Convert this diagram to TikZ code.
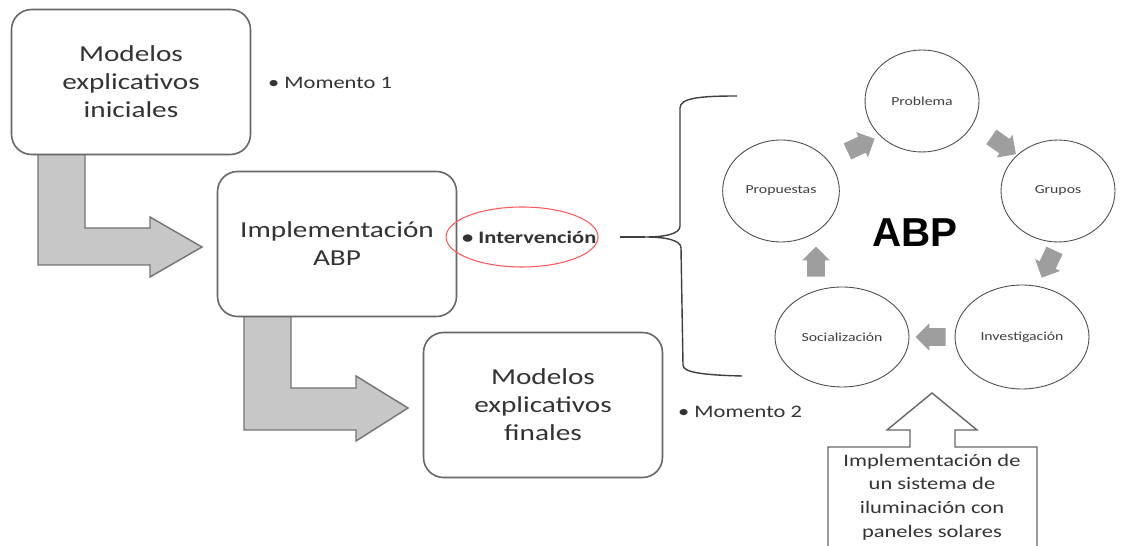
\documentclass[tikz,border=0pt]{standalone}
\usepackage{fontspec}
\setmainfont{Carlito}[FakeStretch=1.28]
\newfontfamily\abpfont{Liberation Sans}
\usetikzlibrary{shapes.geometric,shapes.arrows}

\begin{document}
\begin{tikzpicture}[x=0.02cm,y=-0.02cm,
  caja/.style={draw=black!60, line width=0.9pt, rounded corners=0.4cm, fill=white, minimum width=4.78cm, minimum height=2.9cm, align=center, font=\fontsize{13}{16}\selectfont, text=black!80},
  fase/.style={ellipse, draw=black!70, line width=0.5pt, minimum width=2.28cm, minimum height=2.04cm, font=\fontsize{7}{8}\selectfont, text=black!75},
  flechita/.style={single arrow, fill=black!38, minimum height=0.6cm, single arrow head extend=0.1cm, inner sep=0.17cm},
  flecha/.style={draw=black!55, line width=0.8pt, fill=black!22},
  nota/.style={anchor=west, font=\fontsize{10}{12}\selectfont, text=black!80}]
\path [use as bounding box, fill=white] (0,0) rectangle (1129,546);
\draw [flecha] (38,150) -- (38,265) -- (150,265) -- (150,277) -- (202,247) -- (150,217) -- (150,228) -- (85,228) -- (85,150) -- cycle;
\draw [flecha] (244,312) -- (244,430) -- (356,430) -- (356,441) -- (408,408) -- (356,376) -- (356,388) -- (291,388) -- (291,312) -- cycle;
\node [caja] (inicial) at (131,82) {Modelos\\explicativos\\iniciales};
\node [caja] (implem) at (337,244) {Implementación\\ABP};
\node [caja] (final) at (543,405) {Modelos\\explicativos\\finales};
\node [nota] (mom1) at (262,83) {\textbullet\ Momento 1};
\node [nota] (mom2) at (672,412) {\textbullet\ Momento 2};
\node [nota, font=\fontsize{10}{12}\selectfont\bfseries] (interv) at (456,237) {\textbullet\ Intervención};
\draw [red!65, line width=0.6pt] (522,237) ellipse [x radius=76, y radius=30];
\coordinate (inicioLinea) at (620,237);
\coordinate (punta) at (645,237);
\draw [line width=0.8pt, black!75] (inicioLinea) -- (punta);
\draw [line width=0.8pt, black!75] (737,96) .. controls (700,96) and (680,98) .. (680,108) -- (680,226) .. controls (680,234) and (665,237) .. (punta) .. controls (665,237) and (681,240) .. (681,248) -- (683,365) .. controls (683,372) and (700,375) .. (742,376);
\node [fase] (problema) at (922,101) {Problema};
\node [fase] (propuestas) at (781,191) {Propuestas};
\node [fase] (grupos) at (1058,191) {Grupos};
\node [fase, minimum width=2.68cm, minimum height=2cm] (social) at (842,337) {Socialización};
\node [fase, minimum width=2.64cm, minimum height=2.08cm] (investiga) at (1022,337) {Investigación};
\node [font=\abpfont\bfseries\fontsize{23}{26}\selectfont] (abp) at (915,233) {ABP};
\node [flechita, rotate=25] (f1) at (857,147) {};
\node [flechita, rotate=-35] (f2) at (1000,143) {};
\node [flechita, rotate=-115] (f3) at (1050,260) {};
\node [flechita, rotate=180] (f4) at (935,337) {};
\node [flechita, rotate=90] (f5) at (816,266) {};
\draw [line width=0.8pt, black!60, fill=white] (828,560) -- (828,447) -- (910,447) -- (910,430) -- (887,430) -- (932,393) -- (977,430) -- (955,430) -- (955,447) -- (1037,447) -- (1037,560);
\node [align=center, font=\fontsize{10}{13.5}\selectfont, text=black!80] (sistema) at (932,497) {Implementación de\\un sistema de\\iluminación con\\paneles solares};
\end{tikzpicture}
\end{document}
